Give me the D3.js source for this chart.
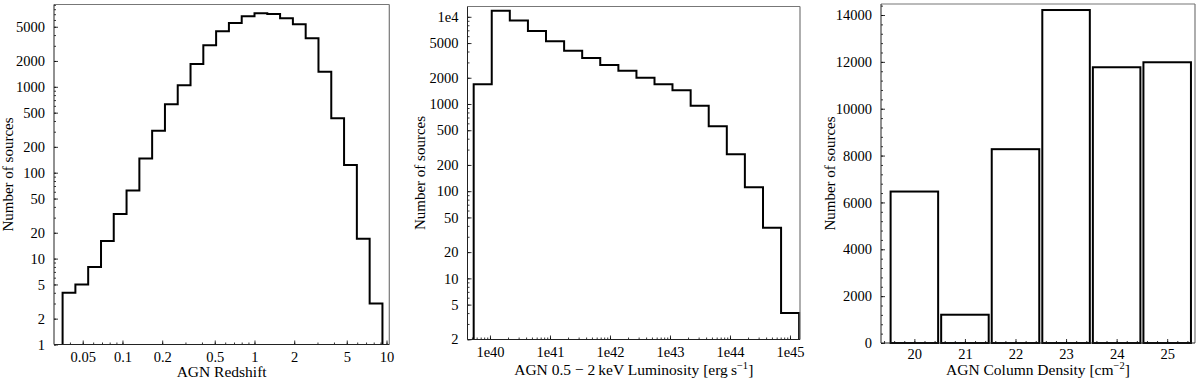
<!DOCTYPE html>
<html>
<head>
<meta charset="utf-8">
<script src="https://cdn.jsdelivr.net/npm/d3@7"></script>
<style>
body{margin:0;background:#fff;}
svg text{font-family:"Liberation Serif","Times New Roman",serif;fill:#000;}
</style>
</head>
<body>
<div id="chart"></div>
<script>
// redshift histogram (log bins)
var zEdges = [0.0352, 0.0440, 0.0550, 0.0688, 0.0859, 0.1074, 0.1343, 0.1678, 0.2098, 0.2622,
              0.3278, 0.4097, 0.5122, 0.6402, 0.8003, 1.0004, 1.2505, 1.5631, 1.9539, 2.4424,
              3.0530, 3.8162, 4.7703, 5.9629, 7.4536, 9.3170];
var zCounts = [4, 5, 8, 16, 33, 62, 146, 308, 626, 1041, 1842, 3041, 4426, 5530, 6620,
               7180, 7040, 6270, 5340, 3670, 1500, 430, 123, 17, 3];
var zTicks = [0.05, 0.1, 0.2, 0.5, 1, 2, 5, 10];
var zCountTicks = [1, 2, 5, 10, 20, 50, 100, 200, 500, 1000, 2000, 5000];

// 0.5-2 keV luminosity histogram
var lumEdges = [5.35e39, 1.07e40, 2.14e40, 4.29e40, 8.58e40, 1.72e41, 3.44e41, 6.88e41, 1.38e42,
                2.76e42, 5.52e42, 1.10e43, 2.21e43, 4.42e43, 8.85e43, 1.77e44, 3.55e44, 7.10e44, 1.42e45];
var lumCounts = [1680, 11730, 9090, 6870, 5230, 4080, 3370, 2800, 2405, 2000, 1680, 1435,
                 955, 555, 265, 111, 38, 4];
var lumTicks = [1e40, 1e41, 1e42, 1e43, 1e44, 1e45];
var lumTickLabels = ["1e40", "1e41", "1e42", "1e43", "1e44", "1e45"];
var lumCountTicks = [2, 5, 10, 20, 50, 100, 200, 500, 1000, 2000, 5000, 1e4];

// column density bars
var nhCategories = [20, 21, 22, 23, 24, 25];
var nhCounts = [6465, 1207, 8273, 14213, 11770, 11983];
var nhCountTicks = [0, 2000, 4000, 6000, 8000, 10000, 12000, 14000];

var svg = d3.select("#chart").append("svg")
    .attr("width", 1200)
    .attr("height", 381);

function logMinor(domain){
    var out = [];
    var lo = Math.floor(Math.log10(domain[0])), hi = Math.ceil(Math.log10(domain[1]));
    for(var p = lo; p <= hi; p++){
        for(var m = 1; m < 10; m++){
            var v = m * Math.pow(10, p);
            if(v >= domain[0] && v <= domain[1]) out.push(v);
        }
    }
    return out;
}

function styleAxis(g){
    g.attr("font-family", null).attr("font-size", null);
    g.select(".domain").remove();
    g.selectAll("line").attr("stroke", "#000").attr("stroke-width", 0.8);
    g.selectAll("text").style("font-size", "14.5px");
}

function drawAxes(x, y, o){
    var bottom = y.range()[0], left = x.range()[0];
    var right = x.range()[1], top = y.range()[1];

    // minor ticks first
    svg.append("g")
        .attr("transform", "translate(0," + bottom + ")")
        .call(d3.axisBottom(x).tickValues(o.xMinor).tickSize(-2).tickFormat(""))
        .call(styleAxis);
    svg.append("g")
        .attr("transform", "translate(" + left + ",0)")
        .call(d3.axisLeft(y).tickValues(o.yMinor).tickSize(-2).tickFormat(""))
        .call(styleAxis);

    svg.append("g")
        .attr("transform", "translate(0," + bottom + ")")
        .call(d3.axisBottom(x).tickValues(o.xTicks).tickSize(-4).tickPadding(o.xPad).tickFormat(o.xFormat))
        .call(styleAxis);
    svg.append("g")
        .attr("transform", "translate(" + left + ",0)")
        .call(d3.axisLeft(y).tickValues(o.yTicks).tickSize(-4).tickPadding(o.yPad).tickFormat(o.yFormat))
        .call(styleAxis);

    // frame
    svg.append("line").attr("x1", left).attr("x2", right).attr("y1", top).attr("y2", top)
        .attr("stroke", "#777").attr("stroke-width", 1.2);
    svg.append("line").attr("x1", right).attr("x2", right).attr("y1", top).attr("y2", bottom)
        .attr("stroke", "#777").attr("stroke-width", 1.2);
    svg.append("line").attr("x1", left).attr("x2", left).attr("y1", top).attr("y2", bottom)
        .attr("stroke", "#222").attr("stroke-width", 1);
    svg.append("line").attr("x1", left).attr("x2", right).attr("y1", bottom).attr("y2", bottom)
        .attr("stroke", "#222").attr("stroke-width", 1);

    svg.append("text")
        .attr("transform", "translate(" + o.yLabelX + "," + ((top + bottom) / 2) + ") rotate(-90)")
        .attr("text-anchor", "middle")
        .style("font-size", "15px")
        .text("Number of sources");

    var xl = svg.append("text")
        .attr("x", (left + right) / 2)
        .attr("y", bottom + o.xLabelDy)
        .attr("text-anchor", "middle")
        .style("font-size", "15.5px");
    o.xLabel.forEach(function(part){
        var t = xl.append("tspan").text(part.t);
        if(part.sup){ t.attr("dy", -6).style("font-size", "10.5px"); }
        if(part.after){ t.attr("dy", 6); }
    });
}

function stepPoints(edges, counts, base){
    var pts = [[edges[0], base]];
    counts.forEach(function(c, i){
        pts.push([edges[i], c]);
        pts.push([edges[i + 1], c]);
    });
    pts.push([edges[edges.length - 1], base]);
    return pts;
}

function fmtPlain(d){ return String(d); }

// ---- panel 1: redshift
(function(){
    var x = d3.scaleLog().domain([0.0303, 10.5]).range([54, 389.3]);
    var y = d3.scaleLog().domain([1, 9080]).range([344.5, 4.5]);
    var line = d3.line().x(function(d){ return x(d[0]); }).y(function(d){ return y(d[1]); });
    svg.append("path")
        .attr("d", line(stepPoints(zEdges, zCounts, 1)))
        .attr("fill", "none").attr("stroke", "#000").attr("stroke-width", 2)
        .attr("stroke-linejoin", "miter");
    drawAxes(x, y, {
        xTicks: zTicks, xMinor: logMinor(x.domain()), xFormat: fmtPlain, xPad: 7,
        yTicks: zCountTicks, yMinor: logMinor(y.domain()), yFormat: fmtPlain, yPad: 9,
        yLabelX: 12.5, xLabelDy: 32.5,
        xLabel: [{t: "AGN Redshift"}]
    });
})();

// ---- panel 2: luminosity
(function(){
    var x = d3.scaleLog().domain([4.22e39, 1.468e45]).range([467.5, 800]);
    var y = d3.scaleLog().domain([1.99, 13130]).range([339.5, 6.5]);
    var line = d3.line().x(function(d){ return x(d[0]); }).y(function(d){ return y(d[1]); });
    svg.append("path")
        .attr("d", line(stepPoints(lumEdges, lumCounts, y.domain()[0])))
        .attr("fill", "none").attr("stroke", "#000").attr("stroke-width", 2);
    drawAxes(x, y, {
        xTicks: lumTicks, xMinor: logMinor(x.domain()),
        xFormat: function(d, i){ return lumTickLabels[i]; }, xPad: 7,
        yTicks: lumCountTicks, yMinor: logMinor(y.domain()),
        yFormat: function(d){ return d === 1e4 ? "1e4" : String(d); }, yPad: 9,
        yLabelX: 425, xLabelDy: 35,
        xLabel: [{t: "AGN 0.5 \u2212 2\u2009keV Luminosity [erg\u2009s"}, {t: "\u22121", sup: true}, {t: "]", after: true}]
    });
})();

// ---- panel 3: column density
(function(){
    var x = d3.scaleLinear().domain([19.34, 25.55]).range([881, 1195]);
    var y = d3.scaleLinear().domain([0, 14470]).range([343, 4]);
    var half = 0.47;
    svg.selectAll(".nhbar")
        .data(nhCounts).enter().append("rect")
        .attr("class", "nhbar")
        .attr("x", function(d, i){ return x(nhCategories[i] - half); })
        .attr("width", function(d, i){ return x(nhCategories[i] + half) - x(nhCategories[i] - half); })
        .attr("y", function(d){ return y(d); })
        .attr("height", function(d){ return y(0) - y(d); })
        .attr("fill", "#fff").attr("stroke", "#000").attr("stroke-width", 2);
    var xMinor = d3.range(19.4, 25.55, 0.2);
    var yMinor = d3.range(0, 14470, 400);
    drawAxes(x, y, {
        xTicks: nhCategories, xMinor: xMinor, xFormat: fmtPlain, xPad: 6,
        yTicks: nhCountTicks, yMinor: yMinor, yFormat: fmtPlain, yPad: 9,
        yLabelX: 835, xLabelDy: 32,
        xLabel: [{t: "AGN Column Density [cm"}, {t: "\u22122", sup: true}, {t: "]", after: true}]
    });
})();
</script>
</body>
</html>
